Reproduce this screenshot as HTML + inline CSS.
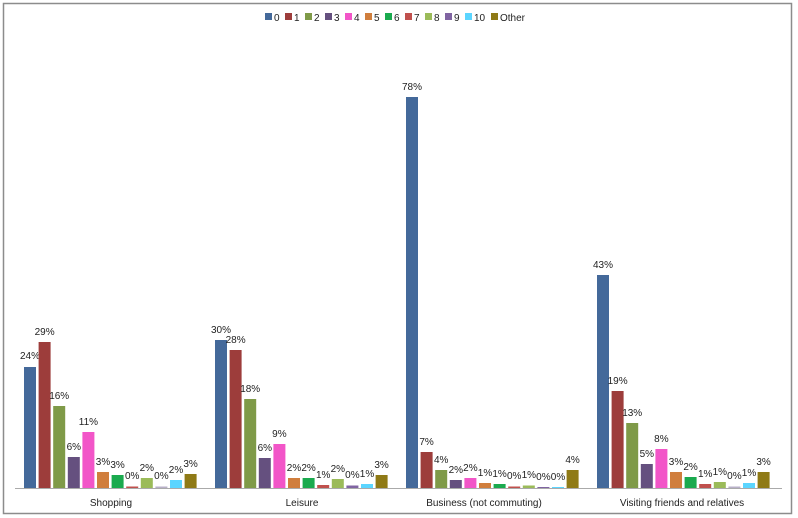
<!DOCTYPE html>
<html><head><meta charset="utf-8"><style>
html,body{margin:0;padding:0;background:#fff;}
svg{display:block;font-family:"Liberation Sans",sans-serif;}
</style></head><body>
<svg width="798" height="518" viewBox="0 0 798 518" xmlns="http://www.w3.org/2000/svg">
<rect x="3.5" y="3.5" width="788" height="510" fill="#fff" stroke="#8c8c8c" stroke-width="1.5"/>
<g font-size="10" fill="#222">
<rect x="265" y="13" width="7" height="7" fill="#44699a"/><text x="274" y="21">0</text>
<rect x="285" y="13" width="7" height="7" fill="#9d3d3b"/><text x="294" y="21">1</text>
<rect x="305" y="13" width="7" height="7" fill="#7f9a48"/><text x="314" y="21">2</text>
<rect x="325" y="13" width="7" height="7" fill="#65507f"/><text x="334" y="21">3</text>
<rect x="345" y="13" width="7" height="7" fill="#f255c8"/><text x="354" y="21">4</text>
<rect x="365" y="13" width="7" height="7" fill="#d07e3d"/><text x="374" y="21">5</text>
<rect x="385" y="13" width="7" height="7" fill="#1aaa4e"/><text x="394" y="21">6</text>
<rect x="405" y="13" width="7" height="7" fill="#c0504d"/><text x="414" y="21">7</text>
<rect x="425" y="13" width="7" height="7" fill="#9bbb59"/><text x="434" y="21">8</text>
<rect x="445" y="13" width="7" height="7" fill="#8064a2"/><text x="454" y="21">9</text>
<rect x="465" y="13" width="7" height="7" fill="#5bd5ff"/><text x="474" y="21">10</text>
<rect x="491" y="13" width="7" height="7" fill="#8f7a16"/><text x="500" y="21">Other</text>
</g>
<line x1="15" y1="488.5" x2="782" y2="488.5" stroke="#aaa" stroke-width="1"/>
<g font-size="10" fill="#222" text-anchor="middle">
<text x="111" y="506">Shopping</text>
<text x="302" y="506">Leisure</text>
<text x="484" y="506">Business (not commuting)</text>
<text x="682" y="506">Visiting friends and relatives</text>
</g>
<!-- Shopping -->
<g transform="translate(24,0)" font-size="10" fill="#222" text-anchor="middle">
<rect x="0" y="367" width="12" height="121" fill="#44699a"/><text x="6" y="359">24%</text>
<rect x="14.6" y="342" width="12" height="146" fill="#9d3d3b"/><text x="20.6" y="335">29%</text>
<rect x="29.2" y="406" width="12" height="82" fill="#7f9a48"/><text x="35.2" y="399">16%</text>
<rect x="43.8" y="457" width="12" height="31" fill="#65507f"/><text x="49.8" y="450">6%</text>
<rect x="58.4" y="432" width="12" height="56" fill="#f255c8"/><text x="64.4" y="425">11%</text>
<rect x="73" y="472" width="12" height="16" fill="#d07e3d"/><text x="79" y="465">3%</text>
<rect x="87.6" y="475" width="12" height="13" fill="#1aaa4e"/><text x="93.6" y="468">3%</text>
<rect x="102.2" y="486.5" width="12" height="1.5" fill="#c0504d"/><text x="108.2" y="479">0%</text>
<rect x="116.8" y="478" width="12" height="10" fill="#9bbb59"/><text x="122.8" y="471">2%</text>
<rect x="131.4" y="486.5" width="12" height="1.5" fill="#b8b0c8"/><text x="137.4" y="479">0%</text>
<rect x="146" y="480" width="12" height="8" fill="#5bd5ff"/><text x="152" y="473">2%</text>
<rect x="160.6" y="474" width="12" height="14" fill="#8f7a16"/><text x="166.6" y="467">3%</text>
</g>
<!-- Leisure -->
<g transform="translate(215,0)" font-size="10" fill="#222" text-anchor="middle">
<rect x="0" y="340" width="12" height="148" fill="#44699a"/><text x="6" y="333">30%</text>
<rect x="14.6" y="350" width="12" height="138" fill="#9d3d3b"/><text x="20.6" y="343">28%</text>
<rect x="29.2" y="399" width="12" height="89" fill="#7f9a48"/><text x="35.2" y="392">18%</text>
<rect x="43.8" y="458" width="12" height="30" fill="#65507f"/><text x="49.8" y="451">6%</text>
<rect x="58.4" y="444" width="12" height="44" fill="#f255c8"/><text x="64.4" y="437">9%</text>
<rect x="73" y="478" width="12" height="10" fill="#d07e3d"/><text x="79" y="471">2%</text>
<rect x="87.6" y="478" width="12" height="10" fill="#1aaa4e"/><text x="93.6" y="471">2%</text>
<rect x="102.2" y="485" width="12" height="3" fill="#c0504d"/><text x="108.2" y="478">1%</text>
<rect x="116.8" y="479" width="12" height="9" fill="#9bbb59"/><text x="122.8" y="472">2%</text>
<rect x="131.4" y="485.5" width="12" height="2.5" fill="#8064a2"/><text x="137.4" y="478">0%</text>
<rect x="146" y="484" width="12" height="4" fill="#5bd5ff"/><text x="152" y="477">1%</text>
<rect x="160.6" y="475" width="12" height="13" fill="#8f7a16"/><text x="166.6" y="468">3%</text>
</g>
<!-- Business -->
<g transform="translate(406,0)" font-size="10" fill="#222" text-anchor="middle">
<rect x="0" y="97" width="12" height="391" fill="#44699a"/><text x="6" y="90">78%</text>
<rect x="14.6" y="452" width="12" height="36" fill="#9d3d3b"/><text x="20.6" y="445">7%</text>
<rect x="29.2" y="470" width="12" height="18" fill="#7f9a48"/><text x="35.2" y="463">4%</text>
<rect x="43.8" y="480" width="12" height="8" fill="#65507f"/><text x="49.8" y="473">2%</text>
<rect x="58.4" y="478" width="12" height="10" fill="#f255c8"/><text x="64.4" y="471">2%</text>
<rect x="73" y="483" width="12" height="5" fill="#d07e3d"/><text x="79" y="476">1%</text>
<rect x="87.6" y="484" width="12" height="4" fill="#1aaa4e"/><text x="93.6" y="477">1%</text>
<rect x="102.2" y="486.5" width="12" height="1.5" fill="#c0504d"/><text x="108.2" y="479">0%</text>
<rect x="116.8" y="485.5" width="12" height="2.5" fill="#9bbb59"/><text x="122.8" y="478">1%</text>
<rect x="131.4" y="487" width="12" height="1" fill="#8064a2"/><text x="137.4" y="480">0%</text>
<rect x="146" y="487" width="12" height="1" fill="#5bd5ff"/><text x="152" y="480">0%</text>
<rect x="160.6" y="470" width="12" height="18" fill="#8f7a16"/><text x="166.6" y="463">4%</text>
</g>
<!-- Visiting -->
<g transform="translate(597,0)" font-size="10" fill="#222" text-anchor="middle">
<rect x="0" y="275" width="12" height="213" fill="#44699a"/><text x="6" y="268">43%</text>
<rect x="14.6" y="391" width="12" height="97" fill="#9d3d3b"/><text x="20.6" y="384">19%</text>
<rect x="29.2" y="423" width="12" height="65" fill="#7f9a48"/><text x="35.2" y="416">13%</text>
<rect x="43.8" y="464" width="12" height="24" fill="#65507f"/><text x="49.8" y="457">5%</text>
<rect x="58.4" y="449" width="12" height="39" fill="#f255c8"/><text x="64.4" y="442">8%</text>
<rect x="73" y="472" width="12" height="16" fill="#d07e3d"/><text x="79" y="465">3%</text>
<rect x="87.6" y="477" width="12" height="11" fill="#1aaa4e"/><text x="93.6" y="470">2%</text>
<rect x="102.2" y="484" width="12" height="4" fill="#c0504d"/><text x="108.2" y="477">1%</text>
<rect x="116.8" y="482" width="12" height="6" fill="#9bbb59"/><text x="122.8" y="475">1%</text>
<rect x="131.4" y="486.5" width="12" height="1.5" fill="#b8b0c8"/><text x="137.4" y="479">0%</text>
<rect x="146" y="483" width="12" height="5" fill="#5bd5ff"/><text x="152" y="476">1%</text>
<rect x="160.6" y="472" width="12" height="16" fill="#8f7a16"/><text x="166.6" y="465">3%</text>
</g>
</svg>
</body></html>
